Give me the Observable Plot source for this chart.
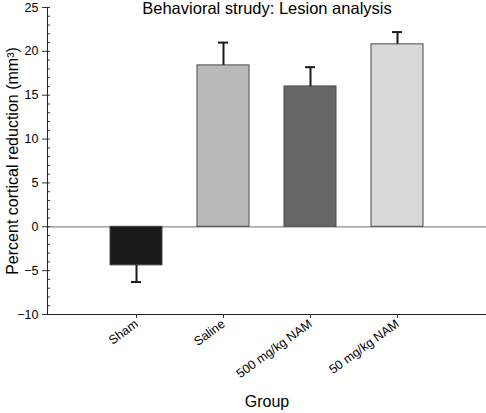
<!DOCTYPE html>
<html>
<head>
<meta charset="utf-8">
<script src="https://cdn.jsdelivr.net/npm/d3@7"></script>
<script src="https://cdn.jsdelivr.net/npm/@observablehq/plot@0.6"></script>
<style>
  html, body { margin: 0; padding: 0; background: #fff; }
</style>
</head>
<body>
<div id="chart"></div>
<script>
const groups = ["Sham", "Saline", "500 mg/kg NAM", "50 mg/kg NAM"];
const values = [-4.4, 18.4, 16.0, 20.8];
const errors = [1.9, 2.6, 2.2, 1.4];
const colors = ["#1a1a1a", "#bababa", "#666666", "#d9d9d9"];
const yMajorTicks = [-10, -5, 0, 5, 10, 15, 20, 25];
const yMinorTicks = d3.range(-10, 26, 1);
const title = "Behavioral strudy: Lesion analysis";
const yLabel = "Percent cortical reduction (mm³)";
const xLabel = "Group";

const data = groups.map((g, i) => ({
  group: g,
  value: values[i],
  errEnd: values[i] + Math.sign(values[i]) * errors[i]
}));

const chart = Plot.plot({
  width: 486,
  height: 413,
  marginLeft: 47,
  marginRight: 0,
  marginTop: 7,
  marginBottom: 99,
  style: { fontFamily: "'Liberation Sans', Arial, sans-serif", fontSize: "12px", color: "#000", background: "#fff" },
  x: { domain: groups, paddingInner: 0.4, paddingOuter: 0.7, label: null },
  y: { domain: [-10, 25], label: null },
  color: { domain: groups, range: colors },
  marks: [
    Plot.ruleY([0], { stroke: "#8a8a8a", strokeWidth: 1.2 }),
    Plot.barY(data, { x: "group", y: "value", fill: "group", stroke: "#4a4a4a", strokeWidth: 1 }),
    Plot.ruleX(data, { x: "group", y1: "value", y2: "errEnd", stroke: "#1a1a1a", strokeWidth: 2 }),
    Plot.tickY(data, { x: "group", y: "errEnd", stroke: "#1a1a1a", strokeWidth: 2, insetLeft: 21, insetRight: 21 }),
    Plot.axisY({ ticks: yMinorTicks, tickSize: -3, text: null, label: null, stroke: "#333" }),
    Plot.axisY({ ticks: yMajorTicks, tickSize: 5, tickPadding: 4, fontSize: 12.5, label: null, stroke: "#333" }),
    Plot.axisX({ tickSize: 4, tickPadding: 4, tickRotate: -36, fontSize: 12.5, label: null, stroke: "#333" }),
    Plot.frame({ anchor: "left", stroke: "#222" }),
    Plot.frame({ anchor: "bottom", stroke: "#222" }),
    Plot.text([title], { text: d => d, frameAnchor: "top", dy: 1.5, fontSize: 16.5, lineAnchor: "middle" }),
    Plot.text([yLabel], { text: d => d, frameAnchor: "left", textAnchor: "middle", dx: -35, rotate: -90, fontSize: 16 }),
    Plot.text([xLabel], { text: d => d, frameAnchor: "bottom", dy: 92, fontSize: 16 })
  ]
});
document.getElementById("chart").appendChild(chart);
</script>
</body>
</html>
